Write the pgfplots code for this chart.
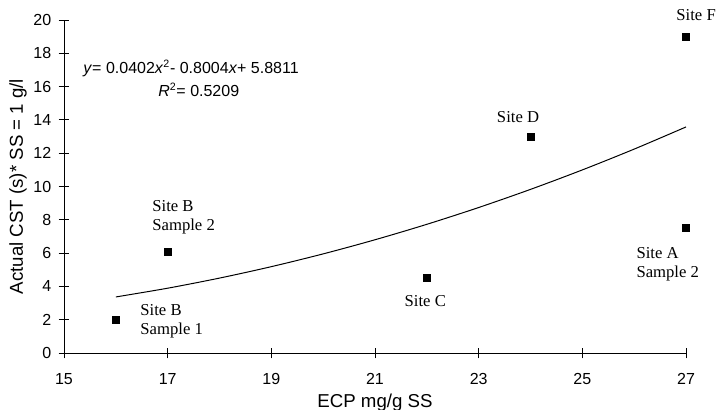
\documentclass[border=0pt]{standalone}
\usepackage{fontspec}
\setmainfont{Liberation Sans}
\newfontfamily\tms{Liberation Serif}
\usepackage{pgfplots}
\pgfplotsset{compat=1.18}

\begin{document}
\begin{tikzpicture}[
  annot/.style={font=\tms\fontsize{12.5}{14.25}\selectfont, inner sep=0pt, align=left},
]
% page = 718x410 px, 1px = 0.75pt, axis box lower-left at px (64,353)
\path[use as bounding box] (-48pt,-42.75pt) rectangle (490.5pt,264.75pt);
\begin{axis}[
  at={(0,0)}, anchor=south west,
  scale only axis, width=466.5pt, height=249.75pt,
  xmin=15, xmax=27, ymin=0, ymax=20,
  xtick={15,17,...,27}, ytick={0,2,...,20},
  axis x line=bottom, axis y line=left,
  axis line style={-, line width=0.6pt},
  tick style={black, line width=0.6pt},
  tick align=center, major tick length=8pt,
  /pgf/number format/assume math mode=true,
  ticklabel style={font=\fontsize{12}{14}\selectfont},
  xticklabel style={yshift=-7.5pt},
  yticklabel style={xshift=-2pt},
  label style={font=\fontsize{14}{16}\selectfont},
  xlabel={ECP mg/g SS},
  ylabel={Actual CST (s)* SS = 1 g/l},
  xlabel style={at={(axis description cs:0.5,-0.165)}, anchor=base},
  ylabel style={at={(axis description cs:-0.074,0.5)}, anchor=center},
  clip=false,
]
% measured samples
\addplot[only marks, mark=square*, mark size=2.6pt, black] coordinates {
  (16,2.0) (17,6.1) (22,4.5) (24,13.0) (27,19.0) (27,7.5)
};
% polynomial trendline (values of the printed fit at x = 16..27)
\addplot[black, line width=0.75pt, smooth] coordinates {
  (16,3.366) (17,3.892) (18,4.499) (19,5.186) (20,5.953) (21,6.801)
  (22,7.729) (23,8.738) (24,9.827) (25,10.996) (26,12.246) (27,13.576)
};
\node[annot, anchor=west] at (axis cs:16.47,1.9) {Site B\\Sample 1};
\node[annot, anchor=west] at (axis cs:16.70,8.14) {Site B\\Sample 2};
\node[annot] at (axis cs:21.97,3.12) {Site C};
\node[annot] at (axis cs:23.76,14.17) {Site D};
\node[annot, anchor=east] at (axis cs:27.58,20.3) {Site F};
\node[annot, anchor=west] at (axis cs:26.04,5.32) {Site A\\Sample 2};
\node[anchor=west, inner sep=0pt, font=\fontsize{12}{14}\selectfont] at (axis cs:15.37,17.1)
  {\textit{y}= 0.0402\textit{x}\textsuperscript{2}- 0.8004\textit{x}+ 5.8811};
\node[inner sep=0pt, font=\fontsize{12}{14}\selectfont] at (axis cs:17.6,15.8)
  {\textit{R}\textsuperscript{2}= 0.5209};
\end{axis}
\end{tikzpicture}
\end{document}
